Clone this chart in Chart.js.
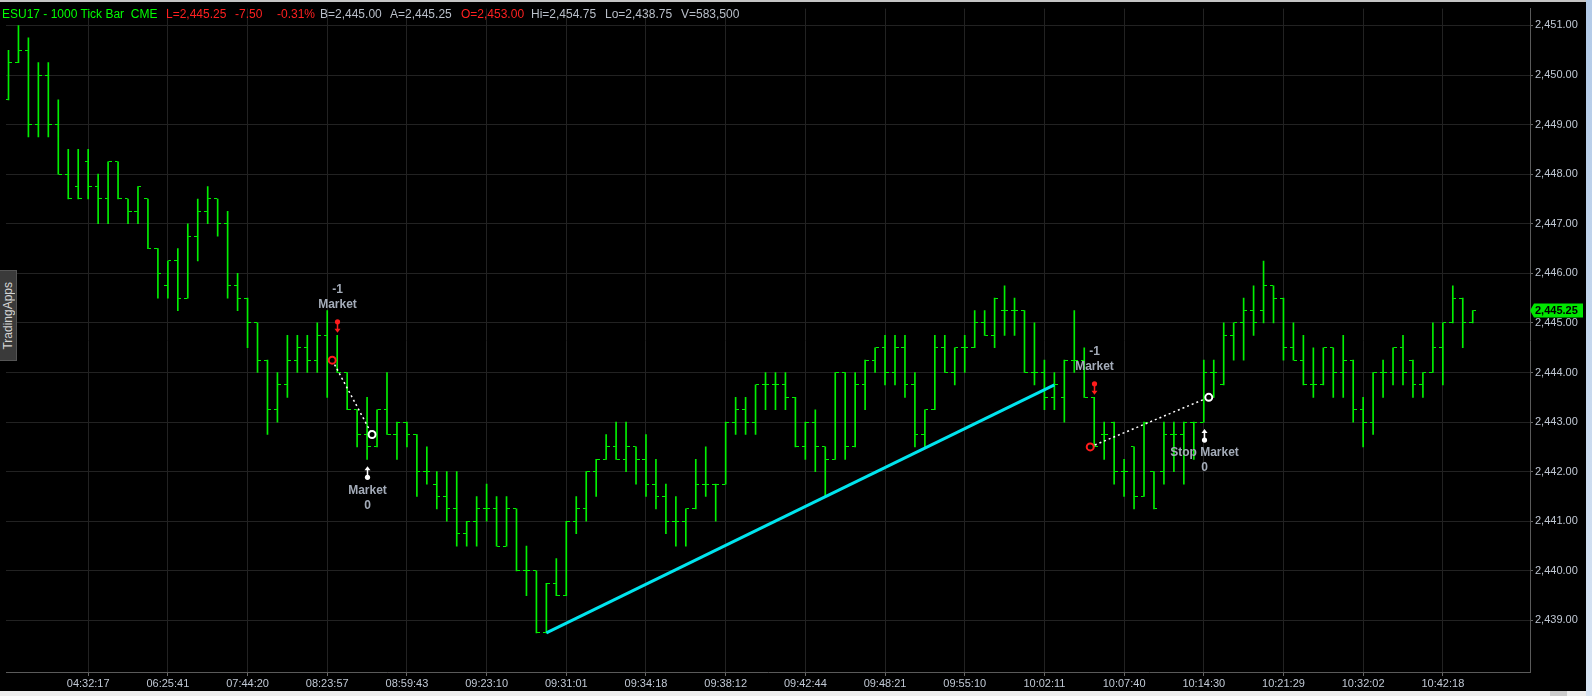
<!DOCTYPE html>
<html>
<head>
<meta charset="utf-8">
<script src="https://cdn.jsdelivr.net/npm/chart.js@4.4.1/dist/chart.umd.min.js"></script>
<style>
  html, body { margin: 0; padding: 0; background: #000; overflow: hidden; }
  #wrap { position: relative; width: 1592px; height: 696px; background: #000; }
  #box { position: absolute; left: 0; top: 0; width: 1586px; height: 691px; }
  #topline { position: absolute; left: 0; top: 0; width: 1586px; height: 2px; background: #c4c4c4; }
  #rstrip { position: absolute; left: 1586px; top: 0; width: 6px; height: 696px; background: linear-gradient(#b3cbe8, #d9e5f4); }
  #bstrip { position: absolute; left: 0; top: 691px; width: 1586px; height: 5px; background: #efefef; }
  #thumb { position: absolute; left: 1550px; top: 691px; width: 17px; height: 5px; background: #cdcdcd; }
  #hdr { position: absolute; left: 0; top: 7px; height: 14px; width: 900px; font: 12px "Liberation Sans", Arial, sans-serif; line-height: 14px; white-space: nowrap; }
  #hdr span { position: absolute; top: 0; }
  .g { color: #00ff00; } .r { color: #ff2020; } .w { color: #b9bfc9; }
  #tab { position: absolute; left: 0; top: 270px; width: 16px; height: 89px; background: #3a3a3a; border: 1px solid #555; border-left: none;
         color: #d4d4d4; font: 12px "Liberation Sans", Arial, sans-serif; display: flex; align-items: center; justify-content: center; }
  #tab span { writing-mode: vertical-rl; transform: rotate(180deg); }
</style>
</head>
<body>
<div id="wrap">
  <div id="box"><canvas id="c"></canvas></div>
  <div id="topline"></div>
  <div id="rstrip"></div>
  <div id="bstrip"></div>
  <div id="thumb"></div>
  <div id="hdr">
    <span class="g" style="left:2px">ESU17 - 1000 Tick Bar&nbsp; CME</span>
    <span class="r" style="left:166px">L=2,445.25</span>
    <span class="r" style="left:235px">-7.50</span>
    <span class="r" style="left:277px">-0.31%</span>
    <span class="w" style="left:320px">B=2,445.00</span>
    <span class="w" style="left:390px">A=2,445.25</span>
    <span class="r" style="left:461px">O=2,453.00</span>
    <span class="w" style="left:531px">Hi=2,454.75</span>
    <span class="w" style="left:605px">Lo=2,438.75</span>
    <span class="w" style="left:681px">V=583,500</span>
  </div>
  <div id="tab"><span>TradingApps</span></div>
</div>
<script>
// ===== Data =====
const timeLabels = ["04:32:17", "06:25:41", "07:44:20", "08:23:57", "08:59:43", "09:23:10", "09:31:01", "09:34:18", "09:38:12",
                    "09:42:44", "09:48:21", "09:55:10", "10:02:11", "10:07:40", "10:14:30", "10:21:29", "10:32:02", "10:42:18"];
const timeIdx = [8, 16, 24, 32, 40, 48, 56, 64, 72, 80, 88, 96, 104, 112, 120, 128, 136, 144];
const priceTicks = [2439, 2440, 2441, 2442, 2443, 2444, 2445, 2446, 2447, 2448, 2449, 2450, 2451];

const opens = [
  2449.5, 2450.25, 2450.5, 2449, 2450, 2449, 2448, 2447.75, 2448.25, 2447.75,
  2447.5, 2448.25, 2447.5, 2447.25, 2447.5, 2446.5, 2445.75, 2446.25, 2445.5, 2446.75,
  2447.25, 2447.5, 2447, 2445.75, 2445.5, 2445, 2444.25, 2443.25, 2443.75, 2444.25,
  2444.5, 2444.25, 2444.75, 2444.25, 2444, 2443.25, 2442.75, 2442.5, 2443.25, 2442.75,
  2443, 2442.75, 2442, 2441.75, 2441.5, 2441.25, 2440.75, 2441, 2441.25, 2441.25,
  2440.5, 2441.25, 2440, 2440, 2438.75, 2439.75, 2439.5, 2441, 2441.25, 2442,
  2442.25, 2442.5, 2442.25, 2442.5, 2442.25, 2441.75, 2441.5, 2441, 2441, 2441.25,
  2441.75, 2441.75, 2441.75, 2443, 2443.25, 2443, 2443.75, 2443.75, 2443.75, 2443.5,
  2442.5, 2443, 2442.5, 2442.25, 2444, 2442.5, 2443.75, 2444.25, 2444.5, 2444,
  2444.5, 2443.75, 2442.75, 2443.25, 2444.5, 2444, 2444.5, 2444.5, 2445, 2444.75,
  2445.25, 2445.25, 2445.25, 2444, 2444, 2443.5, 2443.5, 2444.25, 2444.25, 2443.5,
  2442.75, 2443, 2442, 2442.5, 2441.5, 2442, 2442, 2442.75, 2442.75, 2443,
  2443, 2444, 2443.75, 2444.75, 2445, 2445.25, 2445.25, 2445.75, 2445.5, 2444.5,
  2444.25, 2443.75, 2443.75, 2444.5, 2444, 2444.25, 2443.25, 2443, 2444, 2444,
  2444.5, 2444.25, 2443.75, 2444, 2444.5, 2445, 2445.5, 2445
];
const highs = [
  2450.5, 2451, 2450.75, 2450.25, 2450.25, 2449.5, 2448.5, 2448.5, 2448.5, 2448,
  2448.25, 2448.25, 2447.5, 2447.75, 2447.5, 2446.5, 2446.25, 2446.5, 2447, 2447.5,
  2447.75, 2447.5, 2447.25, 2446, 2445.5, 2445, 2444.25, 2444, 2444.75, 2444.75,
  2444.75, 2445, 2445.25, 2444.75, 2444, 2443.25, 2443.5, 2443.25, 2444, 2443,
  2443, 2442.75, 2442.5, 2442, 2442, 2442, 2441, 2441.5, 2441.75, 2441.5,
  2441.5, 2441.25, 2440.5, 2440, 2439.75, 2440.25, 2441, 2441.5, 2442, 2442.25,
  2442.75, 2443, 2443, 2442.5, 2442.75, 2442.25, 2441.75, 2441.5, 2441.25, 2442.25,
  2442.5, 2441.75, 2443, 2443.5, 2443.5, 2443.75, 2444, 2444, 2444, 2443.5,
  2443, 2443.25, 2442.5, 2444, 2444, 2444, 2444.25, 2444.5, 2444.75, 2444.75,
  2444.75, 2444, 2443.25, 2444.75, 2444.75, 2444.5, 2444.75, 2445.25, 2445.25, 2445.5,
  2445.75, 2445.5, 2445.25, 2445, 2444.25, 2444, 2444.25, 2445.25, 2444.5, 2443.5,
  2443, 2443, 2442.25, 2442.5, 2443, 2442, 2443, 2443, 2443, 2443,
  2444.25, 2444.25, 2445, 2445, 2445.5, 2445.75, 2446.25, 2445.75, 2445.5, 2445,
  2444.75, 2444.5, 2444.5, 2444.5, 2444.75, 2444.25, 2443.5, 2444, 2444.25, 2444.5,
  2444.75, 2444.25, 2444, 2445, 2445, 2445.75, 2445.5, 2445.25
];
const lows = [
  2449.5, 2450.25, 2448.75, 2448.75, 2448.75, 2448, 2447.5, 2447.5, 2447.5, 2447,
  2447, 2447.5, 2447, 2447, 2446.5, 2445.5, 2445.5, 2445.25, 2445.5, 2446.25,
  2447, 2446.75, 2445.5, 2445.25, 2444.5, 2444, 2442.75, 2443, 2443.5, 2444,
  2444, 2444, 2443.5, 2444, 2443.25, 2442.5, 2442.25, 2442.5, 2442.75, 2442.25,
  2442.5, 2441.5, 2441.75, 2441.25, 2441, 2440.5, 2440.5, 2440.5, 2441, 2440.5,
  2440.5, 2440, 2439.5, 2438.75, 2438.75, 2439.5, 2439.5, 2440.75, 2441, 2441.5,
  2442.25, 2442.25, 2442, 2441.75, 2441.5, 2441.25, 2440.75, 2440.5, 2440.5, 2441.25,
  2441.5, 2441, 2441.75, 2442.75, 2442.75, 2442.75, 2443.25, 2443.25, 2443.25, 2442.5,
  2442.25, 2442, 2441.5, 2442.25, 2442.25, 2442.5, 2443.25, 2444, 2443.75, 2443.75,
  2443.5, 2442.5, 2442.5, 2443.25, 2444, 2443.75, 2444, 2444.5, 2444.75, 2444.5,
  2444.75, 2444.75, 2444, 2443.75, 2443.25, 2443.25, 2443, 2444, 2443.5, 2442.5,
  2442.25, 2441.75, 2441.5, 2441.25, 2441.5, 2441.25, 2441.75, 2442, 2441.75, 2442.25,
  2443, 2443.5, 2443.75, 2444.25, 2444.25, 2444.75, 2445, 2445, 2444.25, 2444.25,
  2443.75, 2443.5, 2443.75, 2443.5, 2443.5, 2443, 2442.5, 2442.75, 2443.5, 2443.75,
  2443.75, 2443.5, 2443.5, 2444, 2443.75, 2445, 2444.5, 2445
];
const closes = [
  2450.25, 2450.5, 2449, 2450, 2449, 2448, 2447.5, 2447.5, 2447.75, 2447.5,
  2448.25, 2447.5, 2447.25, 2447.75, 2446.5, 2446, 2446.25, 2445.5, 2446.75, 2447.25,
  2447.5, 2447, 2445.75, 2445.5, 2445, 2444.25, 2443.25, 2443.75, 2444.25, 2444.5,
  2444.25, 2444.75, 2444.25, 2444, 2443.25, 2442.75, 2442.5, 2443.25, 2442.75, 2443,
  2442.75, 2442, 2442, 2441.5, 2441.25, 2440.75, 2441, 2441.25, 2441.25, 2440.5,
  2441.25, 2440, 2440, 2438.75, 2439.75, 2439.5, 2441, 2441.25, 2442, 2442.25,
  2442.5, 2442.25, 2442.5, 2442.25, 2441.75, 2441.5, 2441, 2441, 2441.25, 2441.75,
  2441.75, 2441.75, 2443, 2443.25, 2443, 2443.75, 2443.75, 2443.75, 2443.5, 2442.5,
  2443, 2442.5, 2442.25, 2444, 2442.5, 2443.75, 2444.25, 2444.5, 2444, 2444.5,
  2443.75, 2442.75, 2443.25, 2444.5, 2444, 2444.5, 2444.5, 2445, 2444.75, 2445.5,
  2445.25, 2445.25, 2444, 2444, 2443.5, 2443.75, 2444.25, 2444.25, 2443.5, 2442.5,
  2442.75, 2442, 2442, 2441.5, 2443, 2441.25, 2442.75, 2442.75, 2443, 2443,
  2444, 2444, 2444.75, 2445, 2445.25, 2445, 2445.75, 2445.5, 2444.5, 2444.25,
  2443.75, 2443.75, 2444.5, 2444, 2444.25, 2443.25, 2443, 2444, 2444, 2444.5,
  2444, 2443.75, 2444, 2444.5, 2445, 2445.5, 2445, 2445.25
];

// trend line drawn on the chart (bar index, price)
const trendBars = [54, 105];
const trendPrices = [2438.75, 2443.75];

// trades: entry (sell) and exit (buy) fills
const entryBars = [32.5, 108.6];
const entryPrices = [2444.25, 2442.5];
const exitBars = [36.5, 120.5];
const exitPrices = [2442.75, 2443.5];
const sellPinBars = [33, 109];
const buyPinBars = [36, 120];
const sellTexts = [["-1", "Market"], ["-1", "Market"]];
const buyTexts = [["Market", "0"], ["Stop Market", "0"]];

// ===== OHLC tick images =====
function tickImage(side) {
  const c = document.createElement("canvas");
  c.width = 7;
  c.height = 1;
  const g = c.getContext("2d");
  g.fillStyle = "#00f000";
  if (side === "open") g.fillRect(0, 0, 3, 1);
  else g.fillRect(4, 0, 3, 1);
  return c;
}
const openTick = tickImage("open");
const closeTick = tickImage("close");

const FONT = '"Liberation Sans", Arial, sans-serif';

// ===== Trade pins + last price tag =====
const tradeMarks = {
  id: "tradeMarks",
  afterDatasetsDraw(chart) {
    const ctx = chart.ctx;
    const x = chart.scales.x, y = chart.scales.y;
    ctx.save();
    ctx.font = "bold 12px " + FONT;
    ctx.textAlign = "center";
    ctx.textBaseline = "middle";

    sellPinBars.forEach((b, k) => {
      const px = Math.round(x.getPixelForValue(b)) + 0.5;
      const bottom = y.getPixelForValue(highs[b]) - 2.5;
      ctx.fillStyle = "#ff1c1c";
      ctx.strokeStyle = "#ff1c1c";
      ctx.lineWidth = 1.5;
      ctx.beginPath(); ctx.arc(px, bottom - 11, 2.6, 0, Math.PI * 2); ctx.fill();
      ctx.beginPath(); ctx.moveTo(px, bottom - 11); ctx.lineTo(px, bottom - 2); ctx.stroke();
      ctx.beginPath(); ctx.moveTo(px - 3, bottom - 4); ctx.lineTo(px + 3, bottom - 4); ctx.lineTo(px, bottom); ctx.closePath(); ctx.fill();
      ctx.fillStyle = "#a3abb8";
      ctx.fillText(sellTexts[k][1], px, bottom - 28.5);
      ctx.fillText(sellTexts[k][0], px, bottom - 43.5);
    });

    buyPinBars.forEach((b, k) => {
      const px = Math.round(x.getPixelForValue(b)) + 0.5;
      const top = y.getPixelForValue(lows[b]) + 7;
      ctx.fillStyle = "#ffffff";
      ctx.strokeStyle = "#ffffff";
      ctx.lineWidth = 1.5;
      ctx.beginPath(); ctx.moveTo(px, top); ctx.lineTo(px - 3, top + 4); ctx.lineTo(px + 3, top + 4); ctx.closePath(); ctx.fill();
      ctx.beginPath(); ctx.moveTo(px, top + 3); ctx.lineTo(px, top + 11); ctx.stroke();
      ctx.beginPath(); ctx.arc(px, top + 11, 2.6, 0, Math.PI * 2); ctx.fill();
      ctx.fillStyle = "#a3abb8";
      ctx.fillText(buyTexts[k][0], px, top + 24);
      ctx.fillText(buyTexts[k][1], px, top + 39);
    });
    ctx.restore();
  },
  afterDraw(chart) {
    const ctx = chart.ctx;
    const area = chart.chartArea;
    const last = closes[closes.length - 1];
    const py = chart.scales.y.getPixelForValue(last);
    ctx.save();
    ctx.fillStyle = "#00e600";
    ctx.beginPath();
    ctx.moveTo(area.right, py);
    ctx.lineTo(area.right + 4, py - 7);
    ctx.lineTo(area.right + 53, py - 7);
    ctx.lineTo(area.right + 53, py + 7);
    ctx.lineTo(area.right + 4, py + 7);
    ctx.closePath();
    ctx.fill();
    ctx.fillStyle = "#000";
    ctx.font = "bold 11px " + FONT;
    ctx.textBaseline = "middle";
    ctx.fillText(last.toLocaleString("en-US", { minimumFractionDigits: 2 }), area.right + 5, py + 0.5);
    ctx.restore();
  }
};

// ===== Chart =====
const idx = opens.map((o, i) => i);

new Chart(document.getElementById("c"), {
  type: "bar",
  data: {
    datasets: [
      {
        type: "line",
        data: [
          { x: entryBars[0], y: entryPrices[0] }, { x: exitBars[0], y: exitPrices[0] },
          { x: entryBars[1], y: entryPrices[1] }, { x: exitBars[1], y: exitPrices[1] }
        ],
        showLine: false,
        pointStyle: "circle",
        pointRadius: 3.5,
        pointBorderWidth: 2,
        pointBorderColor: ["#ff1c1c", "#ffffff", "#ff1c1c", "#ffffff"],
        pointBackgroundColor: "#000",
        order: 0
      },
      {
        type: "line",
        data: [{ x: entryBars[0], y: entryPrices[0] }, { x: exitBars[0], y: exitPrices[0] }],
        borderColor: "#ffffff",
        borderWidth: 1.5,
        borderDash: [2, 3],
        pointRadius: 0,
        order: 1
      },
      {
        type: "line",
        data: [{ x: entryBars[1], y: entryPrices[1] }, { x: exitBars[1], y: exitPrices[1] }],
        borderColor: "#ffffff",
        borderWidth: 1.5,
        borderDash: [2, 3],
        pointRadius: 0,
        order: 1
      },
      {
        type: "line",
        data: trendBars.map((b, k) => ({ x: b, y: trendPrices[k] })),
        borderColor: "#00e4ee",
        borderWidth: 3,
        pointRadius: 0,
        order: 2
      },
      {
        type: "line",
        data: idx.map(i => ({ x: i, y: opens[i] })),
        showLine: false,
        pointStyle: openTick,
        pointRadius: 1,
        order: 3
      },
      {
        type: "line",
        data: idx.map(i => ({ x: i, y: closes[i] })),
        showLine: false,
        pointStyle: closeTick,
        pointRadius: 1,
        order: 3
      },
      {
        type: "bar",
        data: idx.map(i => ({ x: i, y: [lows[i], highs[i]] })),
        backgroundColor: "#00f000",
        borderWidth: 0,
        barThickness: 1,
        order: 4
      }
    ]
  },
  options: {
    responsive: true,
    maintainAspectRatio: false,
    animation: false,
    events: [],
    layout: { padding: { top: 3, left: 0, right: 0, bottom: 0 } },
    plugins: { legend: { display: false }, tooltip: { enabled: false } },
    scales: {
      x: {
        type: "linear",
        min: -0.25,
        max: 152.75,
        offset: false,
        grid: { color: "#222", tickColor: "#666", tickLength: 4, offset: false },
        border: { color: "#5a5a5a" },
        ticks: {
          color: "#c0c8d4",
          font: { family: FONT, size: 11 },
          padding: 1,
          maxRotation: 0,
          autoSkip: false,
          callback: (v, i) => timeLabels[i]
        },
        afterBuildTicks: s => { s.ticks = timeIdx.map(v => ({ value: v })); },
        afterFit: s => { s.height = 19; }
      },
      y: {
        type: "linear",
        position: "right",
        min: 2437.96,
        max: 2451.34,
        grid: { color: "#222", tickColor: "#666", tickLength: 3 },
        border: { color: "#5a5a5a" },
        ticks: {
          color: "#c0c8d4",
          font: { family: FONT, size: 11 },
          padding: 2,
          callback: v => v.toLocaleString("en-US", { minimumFractionDigits: 2, maximumFractionDigits: 2 })
        },
        afterBuildTicks: s => { s.ticks = priceTicks.map(v => ({ value: v })); },
        afterFit: s => { s.width = 56; }
      }
    }
  },
  plugins: [tradeMarks]
});
</script>
</body>
</html>
